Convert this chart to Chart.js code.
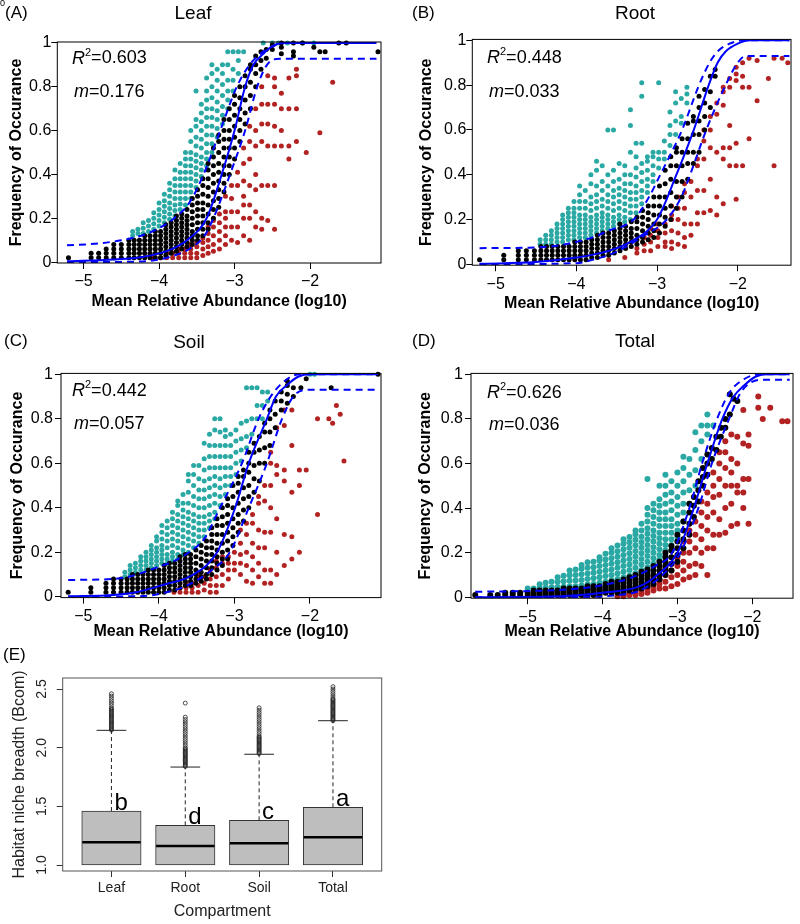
<!DOCTYPE html>
<html><head><meta charset="utf-8">
<script src="https://cdn.jsdelivr.net/npm/chart.js@4.4.0/dist/chart.umd.min.js"></script>
<style>
html,body{margin:0;padding:0;background:#fff;}
body{width:800px;height:924px;position:relative;overflow:hidden;}
canvas{position:absolute;}
</style></head><body>
<script>
// ---------------- DATA ----------------
const xTicks = [-5, -4, -3, -2];
const yTicks = [0, 0.2, 0.4, 0.6, 0.8, 1];

// point columns: [x, [y values...]]
const leafTeal = [
[-4.35,[0.12,0.14]],[-4.28,[0.13,0.15]],[-4.21,[0.13,0.155,0.18]],[-4.14,[0.14,0.165,0.19]],
[-4.07,[0.15,0.175,0.2,0.225]],[-4.0,[0.165,0.19,0.215,0.24,0.27]],[-3.93,[0.18,0.205,0.23,0.255,0.28,0.31]],
[-3.86,[0.195,0.22,0.245,0.27,0.3,0.33,0.36]],[-3.79,[0.21,0.235,0.26,0.29,0.32,0.35,0.38,0.42]],
[-3.72,[0.24,0.265,0.29,0.32,0.35,0.38,0.41,0.45]],[-3.65,[0.26,0.29,0.32,0.35,0.38,0.41,0.44,0.47,0.5]],
[-3.58,[0.29,0.32,0.35,0.38,0.41,0.44,0.47,0.5,0.55,0.6]],[-3.51,[0.34,0.37,0.4,0.43,0.46,0.49,0.53,0.57,0.62,0.65,0.78]],
[-3.44,[0.39,0.42,0.45,0.48,0.52,0.56,0.6,0.64,0.68,0.72]],[-3.37,[0.44,0.47,0.5,0.54,0.58,0.62,0.66,0.7,0.74,0.78,0.84]],
[-3.3,[0.5,0.54,0.58,0.62,0.66,0.7,0.75,0.8,0.86,0.9]],[-3.23,[0.57,0.61,0.65,0.69,0.73,0.78,0.83,0.88]],
[-3.16,[0.63,0.67,0.71,0.76,0.81,0.86,0.9]],[-3.09,[0.7,0.74,0.78,0.83,0.9,0.96]],[-3.02,[0.78,0.83,0.88,0.96]],
[-2.95,[0.86,0.92,0.96]],[-2.88,[0.96]],[-2.62,[1.0]],[-2.5,[1.0]],[-2.42,[1.0]],[-2.3,[1.0]],[-2.1,[1.0]],[-1.95,[1.0]]
];
const leafBlack = [
[-5.2,[0.02]],[-4.9,[0.02,0.04]],[-4.8,[0.02,0.04]],[-4.7,[0.02,0.04,0.06]],[-4.6,[0.02,0.04,0.06,0.08]],
[-4.5,[0.02,0.04,0.06,0.08]],[-4.4,[0.02,0.04,0.06,0.08,0.1]],[-4.33,[0.02,0.04,0.06,0.08,0.1]],
[-4.26,[0.02,0.04,0.06,0.08,0.1]],[-4.19,[0.02,0.04,0.06,0.08,0.1,0.12]],[-4.12,[0.02,0.04,0.06,0.08,0.1,0.12]],
[-4.05,[0.02,0.04,0.06,0.08,0.1,0.12,0.14]],[-3.98,[0.02,0.04,0.06,0.08,0.1,0.12,0.14]],
[-3.91,[0.03,0.05,0.07,0.09,0.11,0.13,0.15,0.17]],[-3.84,[0.04,0.06,0.08,0.1,0.12,0.14,0.16,0.18]],
[-3.77,[0.05,0.07,0.09,0.11,0.13,0.15,0.17,0.19,0.21]],[-3.7,[0.06,0.08,0.1,0.12,0.14,0.16,0.18,0.2,0.22]],
[-3.63,[0.07,0.09,0.11,0.13,0.15,0.17,0.19,0.21,0.24]],[-3.56,[0.08,0.1,0.12,0.14,0.17,0.2,0.23,0.26,0.29]],
[-3.49,[0.1,0.12,0.15,0.18,0.21,0.24,0.27,0.3,0.33]],[-3.42,[0.12,0.15,0.18,0.21,0.24,0.27,0.31,0.35,0.38]],
[-3.35,[0.15,0.18,0.22,0.26,0.3,0.34,0.38,0.42,0.45]],[-3.28,[0.2,0.24,0.28,0.32,0.36,0.4,0.44,0.48,0.52]],
[-3.21,[0.25,0.29,0.33,0.37,0.41,0.45,0.5,0.55,0.58]],[-3.14,[0.32,0.36,0.4,0.44,0.48,0.52,0.56,0.6,0.65]],
[-3.07,[0.4,0.44,0.48,0.52,0.56,0.6,0.65,0.7]],[-3.0,[0.47,0.52,0.57,0.62,0.67,0.72,0.76]],
[-2.93,[0.55,0.6,0.65,0.7,0.75,0.8]],[-2.86,[0.63,0.68,0.74,0.8,0.85]],[-2.79,[0.7,0.76,0.82,0.88,0.9]],
[-2.72,[0.8,0.86,0.9,0.94]],[-2.65,[0.88,0.92,0.96]],[-2.58,[0.93,0.97]],[-2.5,[0.97,0.99]],
[-2.38,[0.95,0.98,1.0]],[-2.22,[0.94,0.96,1.0]],[-2.1,[1.0]],[-1.95,[0.98]],[-1.87,[0.96]],[-1.8,[0.96]],
[-1.62,[1.0]],[-1.52,[1.0]],[-1.1,[0.96]]
];
const leafRed = [
[-4.08,[0.02]],[-3.98,[0.02]],[-3.9,[0.02,0.04]],[-3.82,[0.02,0.04]],[-3.74,[0.02,0.04,0.06]],
[-3.66,[0.02,0.04,0.06]],[-3.58,[0.02,0.04,0.06,0.08]],[-3.5,[0.02,0.04,0.07,0.09]],[-3.42,[0.03,0.06,0.09,0.11]],
[-3.35,[0.04,0.07,0.1,0.13,0.16]],[-3.28,[0.05,0.08,0.12,0.16,0.19]],[-3.2,[0.06,0.1,0.14,0.18,0.22]],
[-3.12,[0.08,0.12,0.16,0.2,0.23,0.3]],[-3.04,[0.1,0.16,0.23,0.29,0.35]],[-2.96,[0.09,0.16,0.23,0.35,0.41]],
[-2.88,[0.12,0.2,0.26,0.3,0.37,0.45,0.52]],[-2.8,[0.1,0.2,0.26,0.35,0.47,0.55,0.62]],
[-2.72,[0.16,0.23,0.33,0.4,0.53,0.6,0.7]],[-2.64,[0.15,0.2,0.35,0.55,0.63,0.72,0.8]],
[-2.56,[0.19,0.35,0.53,0.63,0.72,0.85]],[-2.47,[0.15,0.35,0.53,0.62,0.72,0.8,0.84]],
[-2.38,[0.53,0.6,0.7,0.77]],[-2.28,[0.47,0.53,0.7,0.84]],[-2.18,[0.55,0.7,0.85,0.88]],
[-2.05,[0.5]],[-1.87,[0.59]],[-1.7,[0.82]]
];
const leafFit = [[-5.22,0.004],[-4.6,0.012],[-4.2,0.025],[-3.9,0.05],[-3.63,0.1],[-3.37,0.2],[-3.17,0.4],[-3.0,0.6],[-2.86,0.8],[-2.75,0.9],[-2.62,0.95],[-2.5,0.985],[-2.35,1.0],[-1.12,1.0]];
const leafUpper = [[-5.22,0.077],[-4.8,0.085],[-4.5,0.1],[-4.2,0.125],[-4.0,0.155],[-3.8,0.2],[-3.6,0.27],[-3.41,0.4],[-3.19,0.6],[-2.97,0.8],[-2.8,0.9],[-2.62,0.96],[-2.45,0.99],[-2.35,1.0],[-1.12,1.0]];
const leafLower = [[-5.22,0.0],[-4.3,0.002],[-4.0,0.012],[-3.8,0.03],[-3.6,0.06],[-3.4,0.12],[-3.28,0.2],[-3.06,0.4],[-2.86,0.6],[-2.7,0.8],[-2.57,0.9],[-2.4,0.928],[-1.12,0.928]];
const leafStats = ['0.603', '0.176'];

const rootTeal = [
[-4.45,[0.09,0.11]],[-4.38,[0.09,0.11,0.13]],[-4.31,[0.09,0.11,0.13,0.15]],[-4.24,[0.1,0.12,0.14,0.16,0.18]],
[-4.17,[0.1,0.12,0.14,0.16,0.18,0.2,0.22]],[-4.1,[0.11,0.13,0.15,0.17,0.19,0.21,0.23,0.25]],
[-4.03,[0.11,0.13,0.15,0.17,0.19,0.21,0.23,0.25,0.28]],[-3.96,[0.12,0.14,0.16,0.18,0.2,0.22,0.25,0.28,0.31,0.35]],
[-3.89,[0.12,0.14,0.16,0.18,0.2,0.22,0.25,0.28,0.33]],[-3.82,[0.13,0.15,0.17,0.19,0.21,0.24,0.27,0.3,0.36,0.4]],
[-3.75,[0.14,0.16,0.18,0.2,0.22,0.25,0.28,0.31,0.35,0.42,0.46]],[-3.68,[0.15,0.17,0.19,0.21,0.23,0.26,0.29,0.33,0.37,0.44]],
[-3.61,[0.16,0.18,0.2,0.22,0.25,0.28,0.31,0.35,0.4,0.6]],[-3.54,[0.17,0.19,0.21,0.24,0.27,0.3,0.33,0.37,0.42,0.6]],
[-3.47,[0.18,0.2,0.22,0.25,0.28,0.31,0.34,0.38,0.45]],[-3.4,[0.19,0.21,0.24,0.27,0.3,0.33,0.36,0.4,0.44]],
[-3.33,[0.2,0.23,0.26,0.29,0.32,0.36,0.4,0.5,0.62,0.69]],[-3.26,[0.23,0.26,0.29,0.32,0.35,0.39,0.43,0.48,0.54]],
[-3.19,[0.27,0.3,0.33,0.37,0.41,0.45,0.54,0.75,0.81]],[-3.12,[0.32,0.35,0.38,0.42,0.46,0.48]],
[-3.05,[0.37,0.4,0.44,0.48,0.5]],[-2.98,[0.43,0.47,0.5,0.81]],[-2.91,[0.47,0.5,0.55]],
[-2.84,[0.53,0.58,0.62,0.68]],[-2.77,[0.58,0.64,0.72,0.77]],[-2.7,[0.63,0.66,0.74]],[-2.63,[0.72,0.76,0.79]]
];
const rootBlack = [
[-5.2,[0.02]],[-4.9,[0.02,0.04]],[-4.72,[0.02,0.04,0.06]],[-4.62,[0.02,0.04,0.06]],[-4.52,[0.02,0.04,0.06]],
[-4.44,[0.02,0.04,0.06,0.08]],[-4.37,[0.02,0.04,0.06,0.08]],[-4.3,[0.02,0.04,0.06,0.08]],[-4.23,[0.02,0.04,0.06,0.08]],
[-4.16,[0.02,0.04,0.06,0.08]],[-4.09,[0.02,0.04,0.06,0.08]],[-4.02,[0.02,0.04,0.06,0.08,0.1]],
[-3.95,[0.02,0.04,0.06,0.08,0.1]],[-3.88,[0.02,0.04,0.06,0.08,0.1]],[-3.81,[0.03,0.05,0.07,0.09,0.11]],
[-3.74,[0.03,0.05,0.07,0.09,0.11,0.13]],[-3.67,[0.04,0.06,0.08,0.1,0.12,0.14]],[-3.6,[0.04,0.06,0.08,0.1,0.12,0.14]],
[-3.53,[0.05,0.07,0.09,0.11,0.13,0.15]],[-3.46,[0.06,0.08,0.1,0.12,0.14,0.16,0.18]],[-3.39,[0.07,0.09,0.11,0.13,0.15,0.17]],
[-3.32,[0.08,0.1,0.12,0.14,0.16,0.19]],[-3.25,[0.09,0.11,0.13,0.16,0.19,0.21]],[-3.18,[0.1,0.12,0.15,0.18,0.21,0.24]],
[-3.11,[0.11,0.14,0.17,0.2,0.23,0.26]],[-3.04,[0.12,0.15,0.18,0.22,0.26,0.3]],[-2.97,[0.14,0.18,0.22,0.26,0.3,0.35]],
[-2.9,[0.17,0.21,0.25,0.3,0.36,0.42]],[-2.83,[0.2,0.26,0.32,0.38,0.44,0.48]],[-2.76,[0.25,0.3,0.37,0.44,0.5,0.52]],
[-2.69,[0.3,0.37,0.44,0.5,0.56]],[-2.62,[0.38,0.45,0.5,0.56,0.63]],[-2.55,[0.45,0.5,0.58,0.64,0.66]],
[-2.48,[0.5,0.58,0.64,0.7,0.75]],[-2.41,[0.6,0.66,0.72,0.78]],[-2.34,[0.7,0.77,0.84]],[-2.28,[0.84,0.87]]
];
const rootRed = [
[-3.6,[0.02]],[-3.4,[0.03]],[-3.25,[0.05,0.07]],[-3.16,[0.06,0.09,0.12]],[-3.08,[0.06,0.1,0.13,0.16]],
[-2.99,[0.08,0.12,0.15,0.18]],[-2.9,[0.08,0.1,0.14,0.18]],[-2.82,[0.07,0.1,0.15,0.2,0.22,0.26]],
[-2.74,[0.09,0.14,0.2,0.25,0.3]],[-2.66,[0.08,0.12,0.18,0.25,0.32,0.36]],[-2.58,[0.13,0.18,0.3,0.37]],
[-2.5,[0.18,0.23,0.33,0.44,0.47]],[-2.42,[0.23,0.33,0.47,0.55,0.6]],[-2.34,[0.24,0.38,0.52,0.6,0.66]],
[-2.26,[0.22,0.3,0.5,0.67,0.72]],[-2.18,[0.27,0.47,0.52,0.71,0.77,0.79]],[-2.1,[0.44,0.52,0.62,0.79,0.83]],
[-2.02,[0.29,0.44,0.54,0.82,0.85,0.88]],[-1.94,[0.44,0.79,0.84,0.9]],[-1.86,[0.56,0.79,0.92]],
[-1.76,[0.73,0.91]],[-1.62,[0.83]],[-1.55,[0.44,0.92]],[-1.45,[0.92]],[-1.38,[0.9]]
];
const rootFit = [[-5.2,0.002],[-4.5,0.01],[-4.0,0.03],[-3.6,0.06],[-3.33,0.1],[-3.0,0.2],[-2.76,0.4],[-2.545,0.6],[-2.36,0.8],[-2.25,0.9],[-2.15,0.95],[-2.0,0.985],[-1.84,1.0],[-1.36,1.0]];
const rootUpper = [[-5.2,0.072],[-4.6,0.074],[-4.4,0.077],[-4.2,0.085],[-4.0,0.1],[-3.8,0.12],[-3.6,0.15],[-3.29,0.2],[-3.1,0.3],[-2.96,0.4],[-2.69,0.6],[-2.48,0.8],[-2.35,0.9],[-2.25,0.95],[-2.1,0.985],[-1.92,1.0],[-1.36,1.0]];
const rootLower = [[-5.2,0.0],[-4.0,0.005],[-3.8,0.02],[-3.54,0.05],[-3.2,0.12],[-2.88,0.2],[-2.7,0.3],[-2.59,0.4],[-2.39,0.6],[-2.15,0.8],[-2.0,0.9],[-1.9,0.93],[-1.36,0.93]];
const rootStats = ['0.448', '0.033'];

const soilTeal = [
[-4.45,[0.09,0.11]],[-4.38,[0.1,0.12,0.14]],[-4.31,[0.11,0.13,0.15]],[-4.24,[0.12,0.14,0.16,0.18]],
[-4.17,[0.12,0.14,0.16,0.18,0.2]],[-4.1,[0.13,0.15,0.17,0.19,0.21,0.23]],[-4.03,[0.14,0.16,0.18,0.2,0.22,0.25,0.27]],
[-3.96,[0.15,0.17,0.19,0.21,0.23,0.26,0.29,0.32]],[-3.89,[0.15,0.17,0.19,0.22,0.25,0.28,0.31,0.34]],
[-3.82,[0.16,0.18,0.2,0.23,0.26,0.29,0.32,0.35,0.38]],[-3.75,[0.17,0.19,0.22,0.25,0.28,0.31,0.34,0.37,0.41,0.43]],
[-3.68,[0.19,0.21,0.24,0.27,0.3,0.33,0.36,0.39,0.42,0.46]],[-3.61,[0.2,0.23,0.26,0.29,0.32,0.35,0.38,0.42,0.47,0.52,0.55]],
[-3.54,[0.22,0.25,0.28,0.31,0.34,0.37,0.41,0.45,0.5,0.55,0.59]],[-3.47,[0.24,0.27,0.3,0.33,0.36,0.4,0.44,0.48,0.53,0.59]],
[-3.4,[0.27,0.3,0.33,0.36,0.4,0.44,0.48,0.52,0.57,0.62,0.69]],[-3.33,[0.31,0.34,0.37,0.41,0.45,0.49,0.53,0.58,0.63,0.68,0.73]],
[-3.26,[0.35,0.38,0.42,0.46,0.5,0.54,0.58,0.63,0.68,0.75,0.8]],[-3.19,[0.41,0.45,0.49,0.53,0.58,0.63,0.68,0.74,0.8]],
[-3.12,[0.46,0.5,0.54,0.58,0.63,0.68,0.72,0.75]],[-3.05,[0.5,0.54,0.58,0.63,0.68,0.73]],[-2.98,[0.55,0.6,0.65,0.7,0.75]],
[-2.91,[0.61,0.66,0.71,0.78]],[-2.84,[0.67,0.72,0.79,0.94]],[-2.77,[0.73,0.8,0.94]],[-2.7,[0.8,0.86,0.94]],
[-2.63,[0.8,0.86,0.92]],[-2.56,[0.88,0.92]],[-2.0,[1.0]],[-1.94,[1.0]]
];
const soilBlack = [
[-5.2,[0.02]],[-4.9,[0.02,0.04]],[-4.7,[0.02,0.04,0.06]],[-4.6,[0.02,0.04,0.06,0.08]],[-4.5,[0.02,0.04,0.06,0.08]],
[-4.42,[0.02,0.04,0.06,0.08]],[-4.35,[0.02,0.04,0.06,0.08,0.1]],[-4.28,[0.02,0.04,0.06,0.08,0.1]],
[-4.21,[0.02,0.04,0.06,0.08,0.1]],[-4.14,[0.02,0.04,0.06,0.08,0.1,0.12]],[-4.07,[0.02,0.04,0.06,0.08,0.1,0.12]],
[-4.0,[0.02,0.04,0.06,0.08,0.1,0.12]],[-3.93,[0.02,0.04,0.06,0.08,0.1,0.12,0.14]],[-3.86,[0.03,0.05,0.07,0.09,0.11,0.13,0.15]],
[-3.79,[0.03,0.05,0.07,0.09,0.11,0.13,0.15]],[-3.72,[0.04,0.06,0.08,0.1,0.12,0.14,0.16,0.18]],
[-3.65,[0.05,0.07,0.09,0.11,0.13,0.15,0.17,0.19]],[-3.58,[0.05,0.07,0.09,0.11,0.13,0.15,0.17,0.19]],
[-3.51,[0.06,0.08,0.1,0.12,0.15,0.18,0.21]],[-3.44,[0.07,0.09,0.11,0.14,0.17,0.2,0.23]],
[-3.37,[0.08,0.1,0.13,0.16,0.19,0.22,0.25]],[-3.3,[0.1,0.13,0.16,0.19,0.22,0.25,0.28,0.31]],
[-3.23,[0.12,0.15,0.18,0.21,0.24,0.28,0.32,0.35]],[-3.16,[0.14,0.17,0.2,0.24,0.28,0.32,0.36,0.4]],
[-3.09,[0.17,0.21,0.25,0.29,0.33,0.37,0.41,0.44]],[-3.02,[0.23,0.27,0.31,0.35,0.4,0.45,0.5]],
[-2.95,[0.29,0.33,0.37,0.42,0.47,0.51,0.54]],[-2.88,[0.34,0.39,0.44,0.49,0.54,0.57]],
[-2.81,[0.4,0.45,0.5,0.56,0.6,0.65]],[-2.74,[0.47,0.53,0.59,0.65,0.69]],[-2.67,[0.52,0.6,0.66,0.72]],
[-2.6,[0.6,0.67,0.74,0.78]],[-2.53,[0.68,0.74,0.8,0.84]],[-2.46,[0.76,0.82,0.88]],[-2.38,[0.84,0.88,0.92]],
[-2.3,[0.87,0.91,0.95,0.97]],[-2.22,[0.9,0.94]],[-2.12,[0.94]],[-2.05,[0.98]],[-1.72,[0.94]],[-1.1,[1.0]]
];
const soilRed = [
[-3.8,[0.02]],[-3.72,[0.02,0.04]],[-3.64,[0.02,0.04,0.06]],[-3.56,[0.02,0.04,0.06]],[-3.48,[0.02,0.05,0.08,0.1]],
[-3.4,[0.03,0.06,0.09]],[-3.32,[0.02,0.05,0.08,0.12]],[-3.24,[0.02,0.05,0.09,0.13,0.16]],[-3.16,[0.05,0.1,0.15,0.18]],
[-3.08,[0.08,0.12,0.15,0.18]],[-3.0,[0.12,0.15,0.2]],[-2.92,[0.1,0.15,0.19,0.24,0.3]],[-2.84,[0.07,0.14,0.2,0.28,0.33]],
[-2.76,[0.06,0.12,0.18,0.24,0.33,0.37]],[-2.68,[0.09,0.15,0.22,0.3,0.42,0.45]],[-2.6,[0.06,0.12,0.22,0.29,0.43,0.5]],
[-2.52,[0.06,0.12,0.29,0.4,0.5,0.6,0.65]],[-2.44,[0.1,0.2,0.35,0.55,0.59,0.76]],[-2.34,[0.14,0.28,0.52,0.57,0.77,0.84]],
[-2.24,[0.17,0.27,0.47,0.68,0.84]],[-2.14,[0.2,0.5,0.57]],[-2.05,[0.57]],[-1.9,[0.37,0.8]],[-1.75,[0.8]],
[-1.7,[0.78]],[-1.65,[0.86]],[-1.6,[0.82]],[-1.55,[0.61]]
];
const soilFit = [[-5.2,0.002],[-4.6,0.008],[-4.3,0.02],[-3.98,0.05],[-3.54,0.1],[-3.23,0.2],[-2.99,0.4],[-2.81,0.6],[-2.57,0.8],[-2.45,0.9],[-2.31,0.95],[-2.15,0.99],[-2.0,1.0],[-1.1,1.0]];
const soilUpper = [[-5.2,0.075],[-4.6,0.08],[-4.4,0.09],[-4.2,0.11],[-4.0,0.135],[-3.8,0.16],[-3.6,0.2],[-3.4,0.26],[-3.19,0.4],[-2.9,0.6],[-2.68,0.8],[-2.52,0.9],[-2.4,0.95],[-2.25,0.99],[-2.13,1.0],[-1.1,1.0]];
const soilLower = [[-5.2,0.0],[-4.2,0.003],[-3.9,0.02],[-3.63,0.05],[-3.3,0.12],[-3.06,0.2],[-2.81,0.4],[-2.57,0.6],[-2.37,0.8],[-2.22,0.9],[-2.05,0.93],[-1.1,0.93]];
const soilStats = ['0.442', '0.057'];

const totalTeal = [
[-5.0,[0.04]],[-4.92,[0.04]],[-4.84,[0.042,0.058]],[-4.76,[0.043,0.065]],[-4.68,[0.045,0.07]],
[-4.6,[0.046,0.07,0.09]],[-4.52,[0.047,0.072,0.097]],[-4.44,[0.049,0.074,0.099,0.12]],[-4.36,[0.05,0.075,0.1,0.125]],
[-4.28,[0.053,0.078,0.103,0.128,0.145]],[-4.2,[0.057,0.082,0.107,0.132,0.157]],[-4.12,[0.06,0.085,0.11,0.135,0.16]],
[-4.04,[0.065,0.09,0.115,0.14,0.165,0.18]],[-3.96,[0.07,0.095,0.12,0.145,0.17,0.195]],
[-3.88,[0.076,0.1,0.125,0.15,0.175,0.2,0.22]],[-3.8,[0.082,0.107,0.132,0.157,0.182,0.207,0.232]],
[-3.72,[0.09,0.115,0.14,0.165,0.19,0.215,0.24,0.26]],[-3.64,[0.097,0.122,0.147,0.172,0.197,0.222,0.247,0.27]],
[-3.56,[0.108,0.133,0.158,0.183,0.208,0.233,0.258,0.283,0.3]],[-3.48,[0.122,0.147,0.172,0.197,0.222,0.247,0.272,0.3,0.33]],
[-3.4,[0.135,0.16,0.185,0.21,0.235,0.26,0.285,0.31,0.34,0.37,0.4,0.53]],
[-3.32,[0.15,0.175,0.2,0.225,0.25,0.275,0.3,0.33,0.36,0.39,0.42]],
[-3.24,[0.167,0.19,0.215,0.24,0.265,0.29,0.32,0.35,0.38,0.41,0.44,0.5]],
[-3.16,[0.185,0.21,0.235,0.26,0.29,0.32,0.35,0.38,0.42,0.46,0.5,0.55]],
[-3.08,[0.21,0.235,0.26,0.29,0.32,0.35,0.39,0.43,0.47,0.52]],[-3.0,[0.27,0.3,0.33,0.37,0.41,0.45,0.5,0.56]],
[-2.92,[0.34,0.38,0.42,0.47,0.52,0.58,0.63]],[-2.84,[0.42,0.48,0.55,0.62]],[-2.76,[0.5,0.57,0.66,0.74]],
[-2.68,[0.62,0.7,0.77]],[-2.6,[0.73,0.77,0.82]],[-2.52,[0.77]]
];
const totalBlack = [
[-5.7,[0.01]],[-5.5,[0.01]],[-5.4,[0.01]],[-5.3,[0.01,0.02]],[-5.2,[0.01,0.02]],[-5.1,[0.01,0.02]],[-5.0,[0.01,0.02]],
[-4.92,[0.01,0.02,0.03]],[-4.84,[0.01,0.02,0.03]],[-4.76,[0.01,0.02,0.03]],[-4.68,[0.01,0.02,0.03]],[-4.6,[0.01,0.02,0.03]],
[-4.52,[0.01,0.02,0.03,0.04]],[-4.44,[0.01,0.02,0.03,0.04]],[-4.36,[0.01,0.02,0.03,0.04]],[-4.28,[0.01,0.02,0.03,0.04]],
[-4.2,[0.01,0.02,0.03,0.04,0.05]],[-4.12,[0.01,0.02,0.03,0.04,0.05]],[-4.04,[0.01,0.02,0.03,0.04,0.05]],
[-3.96,[0.02,0.03,0.04,0.05,0.06]],[-3.88,[0.02,0.03,0.04,0.05,0.06,0.07]],[-3.8,[0.02,0.03,0.04,0.05,0.06,0.07]],
[-3.72,[0.02,0.035,0.05,0.065,0.08]],[-3.64,[0.03,0.045,0.06,0.075,0.09]],[-3.56,[0.035,0.05,0.065,0.08,0.1]],
[-3.48,[0.04,0.055,0.07,0.085,0.1,0.115]],[-3.4,[0.05,0.065,0.08,0.095,0.11,0.125]],[-3.32,[0.06,0.08,0.1,0.12,0.14]],
[-3.24,[0.08,0.1,0.12,0.14,0.16]],[-3.16,[0.1,0.12,0.14,0.16,0.18,0.2]],[-3.08,[0.12,0.15,0.18,0.21,0.23]],
[-3.0,[0.16,0.19,0.22,0.25,0.28]],[-2.92,[0.22,0.26,0.3,0.34]],[-2.84,[0.28,0.33,0.38,0.42]],[-2.78,[0.36,0.41,0.45]],
[-2.72,[0.43,0.48,0.52]],[-2.66,[0.5,0.54,0.58]],[-2.6,[0.55,0.6,0.64]],[-2.54,[0.62,0.67]],[-2.48,[0.66,0.72]],
[-2.42,[0.72,0.76]],[-2.36,[0.76,0.8]],[-2.3,[0.82,0.91]],[-2.25,[0.89]],[-2.2,[0.88]]
];
const totalRed = [
[-3.8,[0.005]],[-3.72,[0.005,0.012]],[-3.64,[0.01,0.02]],[-3.56,[0.01,0.02,0.03]],[-3.48,[0.015,0.03,0.045]],
[-3.4,[0.02,0.04,0.06]],[-3.32,[0.03,0.05,0.07,0.09]],[-3.24,[0.04,0.06,0.08,0.1]],[-3.16,[0.04,0.07,0.1,0.13]],
[-3.08,[0.05,0.09,0.12,0.15]],[-3.0,[0.06,0.1,0.14,0.18]],[-2.92,[0.08,0.12,0.16,0.2,0.25]],[-2.84,[0.09,0.14,0.2,0.25,0.3]],
[-2.76,[0.1,0.15,0.22,0.28,0.34]],[-2.68,[0.14,0.2,0.26,0.32,0.38,0.43]],[-2.6,[0.1,0.22,0.3,0.36,0.42,0.47]],
[-2.52,[0.22,0.28,0.38,0.45,0.5,0.56]],[-2.44,[0.28,0.35,0.46,0.53,0.6,0.65]],[-2.36,[0.29,0.4,0.5,0.58,0.65,0.7]],
[-2.28,[0.32,0.42,0.5,0.56,0.62,0.73]],[-2.2,[0.33,0.47,0.5,0.6,0.72]],[-2.12,[0.4,0.47,0.53,0.69,0.84]],
[-2.05,[0.33,0.53,0.68,0.73]],[-1.92,[0.85,0.9]],[-1.86,[0.8]],[-1.76,[0.85]],[-1.6,[0.79]],[-1.53,[0.79]]
];
const totalFit = [[-5.7,0.0],[-4.8,0.002],[-4.3,0.01],[-4.0,0.02],[-3.5,0.05],[-3.27,0.1],[-3.0,0.2],[-2.78,0.4],[-2.6,0.6],[-2.4,0.8],[-2.25,0.9],[-2.11,0.95],[-1.95,0.99],[-1.8,1.0],[-1.5,1.0]];
const totalUpper = [[-5.7,0.025],[-4.8,0.03],[-4.3,0.04],[-4.0,0.055],[-3.6,0.09],[-3.3,0.14],[-3.07,0.2],[-2.84,0.4],[-2.67,0.6],[-2.47,0.8],[-2.3,0.92],[-2.1,0.98],[-1.89,1.0],[-1.5,1.0]];
const totalLower = [[-5.7,0.0],[-4.2,0.002],[-3.8,0.01],[-3.5,0.03],[-3.2,0.1],[-2.96,0.2],[-2.72,0.4],[-2.54,0.6],[-2.31,0.8],[-2.15,0.92],[-1.9,0.975],[-1.5,0.975]];
const totalStats = ['0.626', '0.036'];

// box plot (E)
const compartments = ['Leaf', 'Root', 'Soil', 'Total'];
const boxQ1 = [1.0, 1.0, 1.0, 1.0];
const boxMedian = [1.193, 1.162, 1.185, 1.236];
const boxQ3 = [1.46, 1.338, 1.381, 1.492];
const whiskerHigh = [2.148, 1.835, 1.944, 2.23];
const sigLetters = ['b', 'd', 'c', 'a'];
const boxYTicks = [1.0, 1.5, 2.0, 2.5];
const outLeaf = [2.15,2.16,2.17,2.18,2.19,2.2,2.21,2.22,2.23,2.24,2.25,2.26,2.27,2.28,2.29,2.3,2.31,2.32,2.33,2.34,2.36,2.38,2.4,2.42,2.44,2.46];
const outRoot = [1.84,1.85,1.86,1.87,1.88,1.89,1.9,1.91,1.92,1.93,1.94,1.95,1.96,1.97,1.98,1.99,2.0,2.02,2.04,2.06,2.08,2.1,2.12,2.14,2.16,2.18,2.2,2.22,2.24,2.26,2.38];
const outSoil = [1.95,1.96,1.97,1.98,1.99,2.0,2.01,2.02,2.03,2.04,2.05,2.06,2.07,2.08,2.09,2.1,2.12,2.14,2.16,2.18,2.2,2.22,2.24,2.26,2.28,2.3,2.32,2.34];
const outTotal = [2.23,2.24,2.25,2.26,2.27,2.28,2.29,2.3,2.31,2.32,2.33,2.34,2.35,2.36,2.37,2.38,2.39,2.4,2.41,2.42,2.44,2.46,2.48,2.5,2.52];

// ---------------- RENDER ----------------
const FONT = '"Liberation Sans", Arial, Helvetica, sans-serif';
Chart.defaults.font.family = FONT;
Chart.defaults.color = '#000';
const TEAL = '#2AA8A3', RED = '#B22222', BLUE = '#0000FF';

function cols(c){ const o=[]; c.forEach(([x,ys])=>ys.forEach(y=>o.push({x:x,y:y}))); return o; }
function pts(a){ return a.map(([x,y])=>({x:x,y:y})); }
function makeCanvas(b){
  const cv=document.createElement('canvas');
  cv.width=b[2]; cv.height=b[3];
  cv.style.left=b[0]+'px'; cv.style.top=b[1]+'px';
  cv.style.width=b[2]+'px'; cv.style.height=b[3]+'px';
  document.body.appendChild(cv); return cv;
}
const textPlugin = {
  id:'texts',
  afterDraw(chart, args, opts){
    const ctx=chart.ctx; ctx.save();
    if (opts.frame){ const a=chart.chartArea; ctx.strokeStyle=opts.frame; ctx.lineWidth=1;
      ctx.strokeRect(a.left, a.top, a.right-a.left, a.bottom-a.top); }
    (opts.items||[]).forEach(it=>{
      let x=it.x-opts.ox, y=it.y-opts.oy;
      ctx.textBaseline='middle'; ctx.fillStyle=it.color||'#000';
      if (it.parts){
        ctx.textAlign='left';
        it.parts.forEach(p=>{ ctx.font=p.f; ctx.fillText(p.t, x, y+(p.dy||0)); x+=ctx.measureText(p.t).width+(p.gap||0); });
      } else {
        ctx.font=it.font; ctx.textAlign=it.align||'left'; ctx.fillText(it.t, x, y);
      }
    });
    ctx.restore();
  }
};
function fmtX(v){ return (v<0?'\u2212':'')+Math.abs(v); }
function fmtY(v){ return (v===0||v===1)?String(v):v.toFixed(1); }

function scatterPanel(p){
  const cv=makeCanvas(p.box);
  const lh=19.2;
  const sl=p.yTitleX-lh/2, xb=p.xTitleY+lh/2;
  const pad={left:sl-p.box[0], top:p.area[1]-p.box[1], right:p.box[0]+p.box[2]-p.area[2], bottom:p.box[1]+p.box[3]-xb};
  const yW=p.area[0]-sl, xH=xb-p.area[3];
  const r=p.radius||2.5;
  const ptDs=(data,color,order)=>({data:cols(data), backgroundColor:color, borderWidth:0, pointRadius:r, pointHoverRadius:r, clip:false, order:order});
  const lnDs=(data,dash)=>({data:pts(data), showLine:true, borderColor:BLUE, borderWidth:2, borderDash:dash, pointRadius:0, cubicInterpolationMode:'monotone', fill:false, order:0});
  const big='18px '+FONT, bigI='italic 18px '+FONT, sup='11px '+FONT;
  new Chart(cv,{
    type:'scatter',
    data:{datasets:[
      ptDs(p.teal,TEAL,3), ptDs(p.red,RED,2), ptDs(p.black,'#000',1),
      lnDs(p.upper,[7,5]), lnDs(p.lower,[7,5]), lnDs(p.fit,[])
    ]},
    options:{
      responsive:false, animation:false, events:[],
      layout:{padding:pad},
      plugins:{legend:{display:false}, tooltip:{enabled:false},
        texts:{ox:p.box[0], oy:p.box[1], frame:'#000', items:[
          {t:p.tag, x:p.tagPos[0], y:p.tagPos[1], font:'17px '+FONT},
          {t:p.title, x:p.titlePos[0], y:p.titlePos[1], font:'19px '+FONT, align:'center'},
          {parts:[{t:'R',f:bigI},{t:'2',f:sup,dy:-6},{t:'='+p.stats[0],f:big}], x:p.r2Pos[0], y:p.r2Pos[1]},
          {parts:[{t:'m',f:bigI},{t:'='+p.stats[1],f:big}], x:p.mPos[0], y:p.mPos[1]}
        ].concat(p.extra||[])}},
      scales:{
        x:{type:'linear', min:p.xMin, max:p.xMax,
          afterFit(s){ s.height=xH; },
          afterBuildTicks(s){ s.ticks=xTicks.map(v=>({value:v})); },
          ticks:{callback:v=>fmtX(v), font:{size:16}, color:'#000', padding:3.4, maxRotation:0, autoSkip:false},
          grid:{display:true, drawOnChartArea:false, drawTicks:true, tickLength:6, tickColor:'#000', color:'#000'},
          border:{display:false},
          title:{display:true, text:'Mean Relative Abundance (log10)', font:{size:16, weight:'bold'}, color:'#000', padding:0}},
        y:{type:'linear', min:-0.004, max:1.004,
          afterFit(s){ s.width=yW; },
          afterBuildTicks(s){ s.ticks=yTicks.map(v=>({value:v})); },
          ticks:{callback:v=>fmtY(v), font:{size:16}, color:'#000', padding:p.yPad, autoSkip:false},
          grid:{display:true, drawOnChartArea:false, drawTicks:true, tickLength:6, tickColor:'#000', color:'#000'},
          border:{display:false},
          title:{display:true, text:'Frequency of Occurance', font:{size:16, weight:'bold'}, color:'#000', padding:0}}
      }
    },
    plugins:[textPlugin]
  });
}

scatterPanel({box:[0,0,400,320], area:[57.3,42,381,263], yTitleX:17, xTitleY:302, xMin:-5.348, xMax:-1.06, yPad:0,
  teal:leafTeal, black:leafBlack, red:leafRed, fit:leafFit, upper:leafUpper, lower:leafLower, stats:leafStats,
  tag:'(A)', tagPos:[5,13], title:'Leaf', titlePos:[193,14], r2Pos:[72,58.5], mPos:[74,92],
  extra:[{t:'0', x:0, y:4, font:'9px '+FONT}]});
scatterPanel({box:[400,0,400,320], area:[472.3,39.4,791,265.2], yTitleX:427, xTitleY:304, xMin:-5.29, xMax:-1.34, yPad:0,
  teal:rootTeal, black:rootBlack, red:rootRed, fit:rootFit, upper:rootUpper, lower:rootLower, stats:rootStats,
  tag:'(B)', tagPos:[412,13], title:'Root', titlePos:[635,14], r2Pos:[487,58], mPos:[489,92]});
scatterPanel({box:[0,320,400,330], area:[61,373.4,381,597.6], yTitleX:17.5, xTitleY:632, xMin:-5.295, xMax:-1.06, yPad:2,
  teal:soilTeal, black:soilBlack, red:soilRed, fit:soilFit, upper:soilUpper, lower:soilLower, stats:soilStats,
  tag:'(C)', tagPos:[4,341], title:'Soil', titlePos:[189,342.5], r2Pos:[72,391], mPos:[74,424]});
scatterPanel({box:[400,320,400,330], area:[471,373.4,793,598.2], yTitleX:426, xTitleY:632, xMin:-5.757, xMax:-1.456, yPad:2, radius:3,
  teal:totalTeal, black:totalBlack, red:totalRed, fit:totalFit, upper:totalUpper, lower:totalLower, stats:totalStats,
  tag:'(D)', tagPos:[412,341], title:'Total', titlePos:[635,342], r2Pos:[487,392.7], mPos:[489,425]});

// ---- box plot ----
(function(){
  const box=[0,644,400,280], area=[62.7,678,381.7,871];
  const cv=makeCanvas(box);
  const lh=19.2, yTitleX=20, xTitleY=911.7;
  const sl=yTitleX-lh/2, xb=xTitleY+lh/2;
  const pad={left:sl-box[0], top:area[1]-box[1], right:box[0]+box[2]-area[2], bottom:box[1]+box[3]-xb};
  const yW=area[0]-sl, xH=xb-area[3];
  const outs=[outLeaf,outRoot,outSoil,outTotal];
  const outPts=[]; outs.forEach((a,i)=>a.forEach(v=>outPts.push({x:i+1,y:v})));
  const BW=59.4;
  const boxExtras={
    id:'boxExtras',
    afterDatasetsDraw(chart){
      const {ctx, scales:{x,y}}=chart; ctx.save();
      compartments.forEach((c,i)=>{
        const px=x.getPixelForValue(i+1);
        ctx.strokeStyle='#222'; ctx.lineWidth=1; ctx.setLineDash([4,3]);
        ctx.beginPath(); ctx.moveTo(px,y.getPixelForValue(boxQ3[i])); ctx.lineTo(px,y.getPixelForValue(whiskerHigh[i])); ctx.stroke();
        ctx.setLineDash([]);
        const wy=y.getPixelForValue(whiskerHigh[i]);
        ctx.beginPath(); ctx.moveTo(px-BW/4,wy); ctx.lineTo(px+BW/4,wy); ctx.stroke();
        const my=y.getPixelForValue(boxMedian[i]);
        ctx.strokeStyle='#000'; ctx.lineWidth=2.5;
        ctx.beginPath(); ctx.moveTo(px-BW/2+0.5,my); ctx.lineTo(px+BW/2-0.5,my); ctx.stroke();
        ctx.fillStyle='#000'; ctx.font='24px '+FONT; ctx.textAlign='left'; ctx.textBaseline='alphabetic';
        ctx.fillText(sigLetters[i], px+3, y.getPixelForValue(boxQ3[i])-1);
      });
      ctx.restore();
    }
  };
  new Chart(cv,{
    type:'bar',
    data:{datasets:[
      {type:'bar', data:compartments.map((c,i)=>({x:i+1, y:[boxQ1[i], boxQ3[i]]})), backgroundColor:'#BEBEBE', borderColor:'#333', borderWidth:1, borderSkipped:false, barThickness:BW, order:2},
      {type:'scatter', data:outPts, pointRadius:2, pointHoverRadius:2, backgroundColor:'rgba(0,0,0,0)', borderColor:'#222', borderWidth:0.8, clip:false, order:1}
    ]},
    options:{
      responsive:false, animation:false, events:[],
      layout:{padding:pad},
      plugins:{legend:{display:false}, tooltip:{enabled:false},
        texts:{ox:box[0], oy:box[1], frame:'#555', items:[{t:'(E)', x:3, y:655, font:'17px '+FONT}]}},
      scales:{
        x:{type:'linear', min:0.34, max:4.66, offset:false,
          afterFit(s){ s.height=xH; },
          afterBuildTicks(s){ s.ticks=[1,2,3,4].map(v=>({value:v})); },
          ticks:{callback:(v)=>compartments[Math.round(v)-1], font:{size:14}, color:'#222', padding:2.6, maxRotation:0, autoSkip:false},
          grid:{display:true, offset:false, drawOnChartArea:false, drawTicks:true, tickLength:6, tickColor:'#333', color:'#333'},
          border:{display:false},
          title:{display:true, text:'Compartment', font:{size:16}, color:'#222', padding:0}},
        y:{type:'linear', min:0.949, max:2.594,
          afterFit(s){ s.width=yW; },
          afterBuildTicks(s){ s.ticks=boxYTicks.map(v=>({value:v})); },
          ticks:{callback:v=>v.toFixed(1), font:{size:14}, color:'#222', padding:5, minRotation:90, maxRotation:90, crossAlign:'center', autoSkip:false},
          grid:{display:true, drawOnChartArea:false, drawTicks:true, tickLength:6, tickColor:'#333', color:'#333'},
          border:{display:false},
          title:{display:true, text:'Habitat niche breadth (Bcom)', font:{size:16}, color:'#222', padding:0}}
      }
    },
    plugins:[textPlugin, boxExtras]
  });
})();
</script>
</body></html>
